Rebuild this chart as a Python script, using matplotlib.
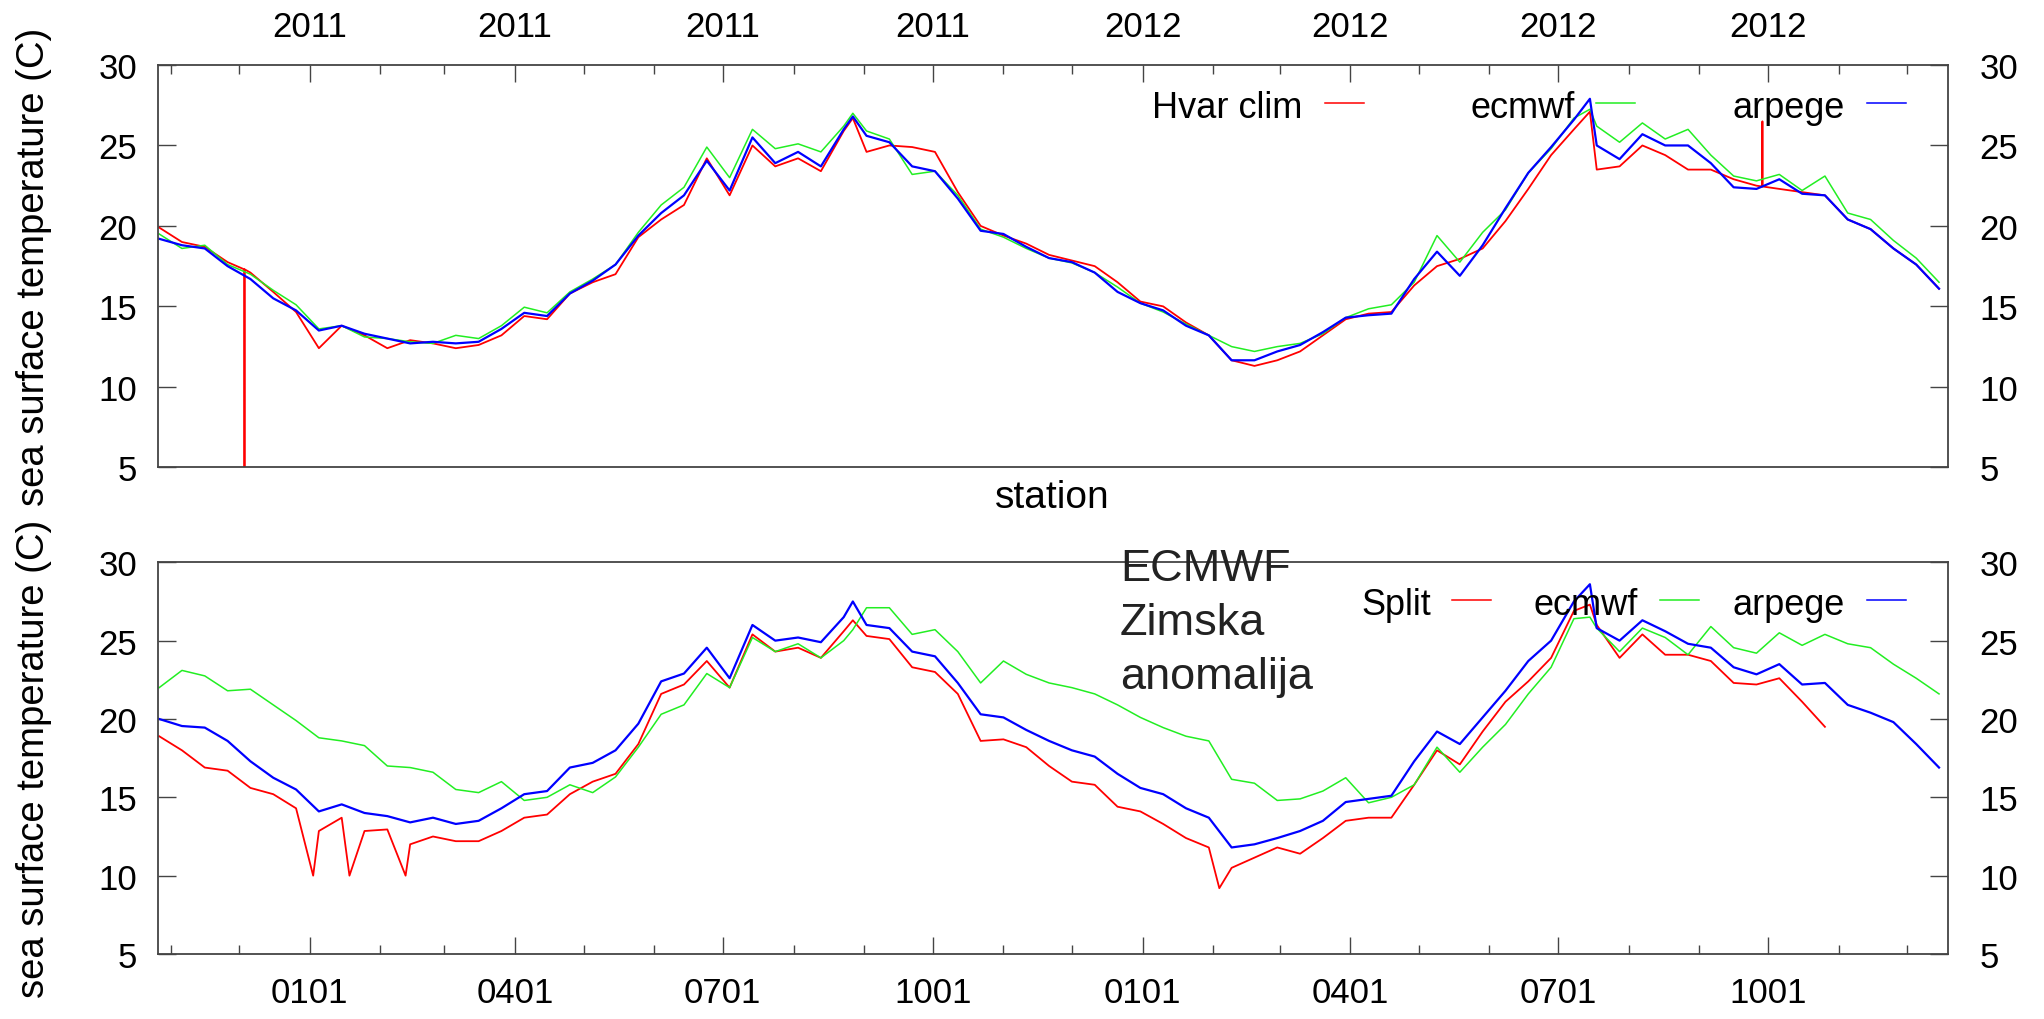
import numpy as np
import matplotlib
matplotlib.use('Agg')
import matplotlib.pyplot as plt
import matplotlib.transforms as mtransforms
from matplotlib.lines import Line2D

plt.rcParams['font.family'] = ['Liberation Sans', 'DejaVu Sans']

# ---------------- data (days since 2011-01-01) ----------------
days = [-66, -56, -46, -36, -26, -16, -6, 4, 14, 24, 34, 44, 54, 64, 74, 84, 94, 104,
        114, 124, 134, 144, 154, 164, 174, 184, 194, 204, 214, 224, 234, 238, 244, 254, 264,
        274, 284, 294, 304, 314, 324, 334, 344, 354, 364, 374, 384, 394, 404, 414, 424,
        434, 444, 454, 464, 474, 484, 494, 504, 514, 524, 534, 544, 554, 561, 564, 574, 584,
        594, 604, 614, 624, 634, 644, 654, 664, 674, 684, 694, 704, 714]

# top panel: station Hvar
hvar_clim = [19.9, 19.0, 18.7, 17.75, 17.1, 15.9, 14.65, 12.4, 13.8, 13.2, 12.4, 12.9, 12.7,
             12.4, 12.6, 13.2, 14.4, 14.2, 15.8, 16.5, 17.0, 19.3, 20.4, 21.3, 24.2, 21.9,
             25.0, 23.7, 24.2, 23.4, 25.9, 26.7, 24.6, 25.0, 24.9, 24.6, 22.1, 20.0, 19.4, 18.9,
             18.2, 17.85, 17.5, 16.5, 15.3, 15.0, 14.0, 13.2, 11.65, 11.3, 11.65, 12.2, 13.2,
             14.2, 14.55, 14.65, 16.3, 17.5, 17.95, 18.6, 20.3, 22.3, 24.4, 26.0, 27.1, 23.5, 23.7,
             25.0, 24.4, 23.5, 23.5, 22.9, 22.5, 22.3, 22.1, 21.9, 20.4, 19.8, 18.6, 17.6, 16.1]
hvar_spike_days = [-28.7, -28.6, -28.5, 636.5, 636.6, 636.7]
hvar_spike_vals = [17.3, 3.0, 17.3, 22.45, 26.5, 22.45]

hvar_ecmwf = [19.5, 18.6, 18.8, 17.6, 17.0, 16.0, 15.1, 13.6, 13.8, 13.1, 13.0, 12.8, 12.7,
              13.2, 13.0, 13.8, 14.95, 14.6, 15.9, 16.7, 17.6, 19.6, 21.3, 22.4, 24.9, 23.0,
              26.0, 24.8, 25.1, 24.6, 26.2, 27.0, 25.9, 25.4, 23.2, 23.4, 21.9, 19.8, 19.3, 18.6,
              18.0, 17.7, 17.1, 16.2, 15.2, 14.65, 13.9, 13.2, 12.5, 12.2, 12.5, 12.7, 13.3,
              14.3, 14.85, 15.1, 16.5, 19.4, 17.75, 19.6, 21.0, 23.3, 24.8, 26.7, 27.25, 26.2, 25.2,
              26.4, 25.4, 26.0, 24.4, 23.1, 22.8, 23.2, 22.2, 23.1, 20.8, 20.4, 19.1, 18.0, 16.5]

hvar_arpege = [19.2, 18.8, 18.6, 17.5, 16.7, 15.5, 14.75, 13.5, 13.8, 13.3, 13.0, 12.7, 12.8,
               12.7, 12.8, 13.6, 14.6, 14.4, 15.8, 16.6, 17.6, 19.4, 20.8, 21.9, 24.05, 22.2,
               25.5, 23.9, 24.6, 23.7, 26.0, 26.8, 25.6, 25.2, 23.7, 23.4, 21.7, 19.7, 19.5, 18.7,
               18.0, 17.75, 17.1, 15.9, 15.2, 14.75, 13.8, 13.2, 11.65, 11.65, 12.2, 12.6, 13.4,
               14.3, 14.45, 14.55, 16.7, 18.4, 16.9, 18.8, 21.1, 23.3, 24.9, 26.6, 27.9, 25.0, 24.15,
               25.7, 25.0, 25.0, 23.9, 22.4, 22.3, 22.9, 22.0, 21.9, 20.4, 19.8, 18.6, 17.6, 16.1]

# bottom panel: station Split
split_obs = [18.9, 18.0, 16.9, 16.7, 15.6, 15.2, 14.3, 12.85, 13.7, 12.85, 12.95, 12.0, 12.5,
             12.2, 12.2, 12.85, 13.7, 13.9, 15.2, 16.0, 16.5, 18.4, 21.6, 22.2, 23.7, 22.0,
             25.4, 24.3, 24.55, 23.9, 25.6, 26.3, 25.3, 25.1, 23.3, 23.0, 21.6, 18.6, 18.7, 18.2,
             17.0, 16.0, 15.8, 14.4, 14.1, 13.3, 12.4, 11.8, 10.5, 11.15, 11.8, 11.4, 12.4,
             13.5, 13.7, 13.7, 15.8, 18.0, 17.1, 19.2, 21.1, 22.4, 23.9, 26.9, 27.3, 26.0, 23.9,
             25.4, 24.1, 24.1, 23.7, 22.3, 22.2, 22.6, 21.1, 19.5, np.nan, np.nan, np.nan,
             np.nan, np.nan]
split_dip_days = [1.5, 17.4, 42.0, 398.6]
split_dip_vals = [10.0, 10.0, 10.0, 9.2]

split_ecmwf = [22.0, 23.1, 22.75, 21.8, 21.9, 20.9, 19.9, 18.8, 18.6, 18.3, 17.0, 16.9, 16.6,
               15.5, 15.3, 16.0, 14.8, 15.0, 15.8, 15.3, 16.3, 18.2, 20.3, 20.9, 22.9, 22.0,
               25.2, 24.3, 24.8, 23.9, 25.0, 25.7, 27.1, 27.1, 25.4, 25.7, 24.3, 22.3, 23.7, 22.85,
               22.3, 22.0, 21.6, 20.9, 20.1, 19.45, 18.9, 18.6, 16.15, 15.9, 14.8, 14.9, 15.4,
               16.25, 14.65, 15.0, 15.8, 18.2, 16.6, 18.2, 19.65, 21.6, 23.3, 26.4, 26.5, 25.8, 24.3,
               25.8, 25.2, 24.1, 25.9, 24.55, 24.2, 25.5, 24.7, 25.4, 24.8, 24.55, 23.5, 22.6, 21.6]

split_arpege = [20.0, 19.55, 19.45, 18.6, 17.3, 16.25, 15.5, 14.1, 14.55, 14.0, 13.8, 13.4, 13.7,
                13.3, 13.5, 14.3, 15.2, 15.4, 16.9, 17.2, 18.0, 19.7, 22.4, 22.9, 24.55, 22.6,
                26.0, 25.0, 25.2, 24.9, 26.5, 27.5, 26.0, 25.8, 24.3, 24.0, 22.3, 20.3, 20.1, 19.3,
                18.6, 18.0, 17.6, 16.5, 15.6, 15.2, 14.3, 13.7, 11.8, 12.0, 12.4, 12.85, 13.5,
                14.7, 14.9, 15.1, 17.3, 19.2, 18.4, 20.1, 21.8, 23.7, 25.0, 27.5, 28.6, 25.8, 25.0,
                26.3, 25.6, 24.8, 24.55, 23.3, 22.85, 23.5, 22.2, 22.3, 20.9, 20.4, 19.8, 18.4, 16.9]

# axis ticks
major_days = [0, 90, 181, 273, 365, 456, 547, 639]
minor_days = [-61, -31, 31, 59, 120, 151, 212, 243, 304, 334, 396, 425, 486, 517, 578, 609, 670, 700]
top_labels = ['2011', '2011', '2011', '2011', '2012', '2012', '2012', '2012']
bottom_labels = ['0101', '0401', '0701', '1001', '0101', '0401', '0701', '1001']
yticks = [5, 10, 15, 20, 25, 30]

# ---------------- figure ----------------
W, H = 2044, 1020
fig = plt.figure(figsize=(W / 100, H / 100), dpi=100)


def fx(px):
    return px / W


def fy(py):
    return 1 - py / H


RED, GREEN, BLUE = '#ff0000', '#22ee22', '#0000ff'
FRAME = '#444444'
LW_R, LW_G, LW_B = 1.3, 1.1, 1.6

left, right = 158, 1947.7
ax1 = fig.add_axes([fx(left), fy(468.3), (right - left) / W, (468.3 - 66) / H])
ax2 = fig.add_axes([fx(left), fy(955), (right - left) / W, (955 - 563.3) / H])


def merged(d, v, sd, sv):
    d = np.concatenate([np.asarray(d, float), np.asarray(sd, float)])
    v = np.concatenate([np.asarray(v, float), np.asarray(sv, float)])
    o = np.argsort(d, kind='stable')
    return d[o], v[o]


d_h, v_h = merged(days, hvar_clim, hvar_spike_days, hvar_spike_vals)
ax1.plot(d_h, v_h, color=RED, lw=LW_R)
ax1.plot(days, hvar_ecmwf, color=GREEN, lw=LW_G)
ax1.plot(days, hvar_arpege, color=BLUE, lw=LW_B)

d_s, v_s = merged(days, split_obs, split_dip_days, split_dip_vals)
ax2.plot(d_s, v_s, color=RED, lw=LW_R)
ax2.plot(days, split_ecmwf, color=GREEN, lw=LW_G)
ax2.plot(days, split_arpege, color=BLUE, lw=LW_B)

for ax in (ax1, ax2):
    ax.set_xlim(-66.5, 717.8)
    ax.set_ylim(5, 30)
    ax.set_yticks(yticks)
    ax.set_yticklabels([str(t) for t in yticks])
    ax.set_xticks(major_days)
    ax.set_xticks(minor_days, minor=True)
    for s in ax.spines.values():
        s.set_color(FRAME)
        s.set_linewidth(1.3)
    ax.tick_params(axis='y', which='major', direction='in', length=13, width=1.0,
                   color=FRAME, left=True, right=True, labelleft=True, labelright=True,
                   labelsize=25, pad=15)

ax1.xaxis.tick_top()
ax1.set_xticklabels(top_labels)
ax1.tick_params(axis='x', which='both', direction='in', top=True, bottom=False,
                labeltop=True, labelbottom=False, color=FRAME, width=1.0, labelsize=25)
ax1.tick_params(axis='x', which='major', length=12.2, pad=16)
ax1.tick_params(axis='x', which='minor', length=6.5)

ax2.set_xticklabels(bottom_labels)
ax2.tick_params(axis='x', which='both', direction='in', top=False, bottom=True,
                labeltop=False, labelbottom=True, color=FRAME, width=1.0, labelsize=25)
ax2.tick_params(axis='x', which='major', length=12.2, pad=16)
ax2.tick_params(axis='x', which='minor', length=6.5)

# right tick labels sit further from the frame than the left ones
for ax in (ax1, ax2):
    off = mtransforms.ScaledTranslation(8 / 72, 0, fig.dpi_scale_trans)
    for t in ax.yaxis.get_major_ticks():
        t.label2.set_transform(t.label2.get_transform() + off)

# axis titles
fig.text(fx(1052), fy(498), 'station', ha='center', va='center', fontsize=28)
fig.text(fx(34), fy(267), 'sea surface temperature (C)', rotation=90,
         ha='center', va='center', fontsize=27.5)
fig.text(fx(34), fy(759), 'sea surface temperature (C)', rotation=90,
         ha='center', va='center', fontsize=27.5)


# legends (gnuplot style: text then short line sample)
def legend_entry(text_right, base_y, line_x0, line_x1, line_y, label, color, lw):
    fig.text(fx(text_right), fy(base_y), label, ha='right', va='baseline', fontsize=26)
    fig.add_artist(Line2D([fx(line_x0), fx(line_x1)], [fy(line_y), fy(line_y)],
                          color=color, lw=lw, transform=fig.transFigure))


legend_entry(1302, 118.5, 1325, 1364, 103.5, 'Hvar clim', RED, 1.1)
legend_entry(1575, 118.5, 1596, 1635, 103.5, 'ecmwf', GREEN, 1.1)
legend_entry(1845, 118.5, 1867, 1906, 103.5, 'arpege', BLUE, 1.1)

legend_entry(1431, 615, 1452, 1491, 601, 'Split', RED, 1.1)
legend_entry(1638, 615, 1660, 1699, 601, 'ecmwf', GREEN, 1.1)
legend_entry(1845, 615, 1867, 1906, 601, 'arpege', BLUE, 1.1)

# annotation
for txt, by in (('ECMWF', 581), ('Zimska', 635), ('anomalija', 689)):
    fig.text(fx(1120), fy(by), txt, ha='left', va='baseline', fontsize=32.5, color='#222222')

fig.savefig('out.png', dpi=100)
